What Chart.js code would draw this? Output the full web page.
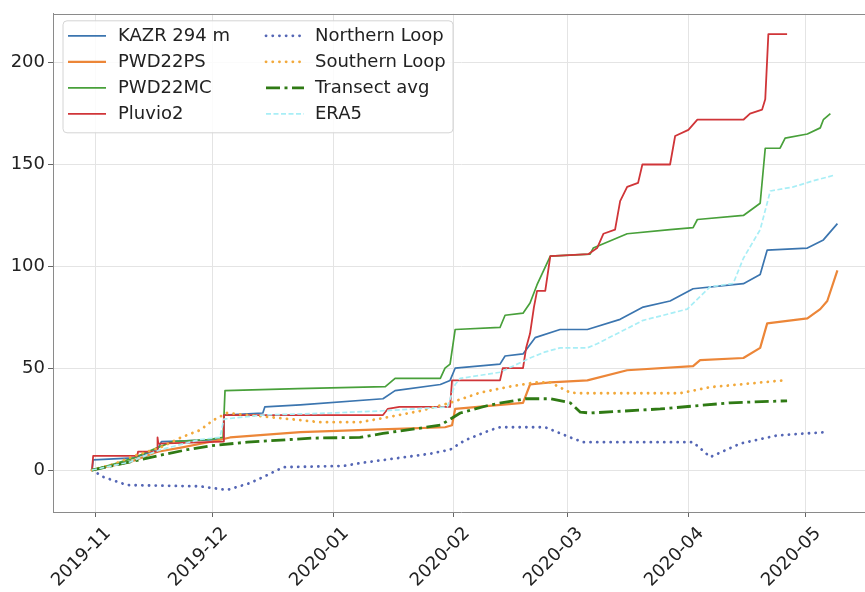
<!DOCTYPE html>
<html><head><meta charset="utf-8">
<script src="https://cdn.jsdelivr.net/npm/chart.js@4/dist/chart.umd.min.js"></script>
<style>html,body{margin:0;padding:0;background:#fff;overflow:hidden;width:865px;height:592px}canvas{display:block}</style>
</head><body><canvas id="c" width="880" height="592"></canvas>
<script>
// x values are days since 2019-11-01, y values are accumulated precipitation
const monthLabels = ['2019-11','2019-12','2020-01','2020-02','2020-03','2020-04','2020-05'];
const yTicks = [0, 50, 100, 150, 200];

const kazrDays = [-0.8,-0.5,10,16,17,32.8,33,43,43.5,52.6,73.8,76.9,88.5,91,92.3,103.8,105.1,109.7,112.8,119.2,126.2,134.6,140.5,147.4,153.3,166.2,170.5,172.3,182.6,186.7,190.3];
const kazrVals = [0,5,6,10,14,15,27,28,31,32,35,39,42,44,50,52,56,57,65,69,69,74,80,83,89,91.5,96,108,109,113,121];

const psDays = [-0.8,9,16,22,30,34.6,52.6,73.1,89.7,91.5,92.3,109.7,111.5,116.7,126.2,136.4,153.3,155.1,166.2,170.5,172.3,182.6,185.9,187.7,190.3];
const psVals = [0,4,9,11,14,16,18.6,20,21,22,30,33,42,43,44,49,51,54,55,60,72,74.5,79,83,98];

const mcDays = [-0.8,5,10,16,20,29,32.8,33.3,52,74.4,76.9,88.5,89.7,91,92.3,103.8,105.1,109.7,111.5,113.3,116.7,126.9,127.7,136.4,147.4,153.3,154.4,166.2,170.5,171.8,175.6,176.9,182.6,185.9,186.7,188.5];
const mcVals = [0,3,6,11,14,15,16,39,40,41,45,45,50,52,69,70,76,77,82,91,105,106,109,116,118,119,123,125,131,158,158,163,165,168,172,175];

const pluvioDays = [-0.8,-0.5,10.8,11,15.9,16,16.2,32.8,33,73.8,75,78,91,91.5,103.8,104.5,109.7,110.5,111.5,112.5,113.3,115.4,116.7,126.4,128.7,130.3,133.3,134.6,136.4,139.2,140.3,147.4,148.7,152.1,154.4,166.2,167.9,171,171.8,172.6,177.4];
const pluvioVals = [0,7,7,9,9,16,13,14,27,27,30,31,31,44,44,50,50,60,67,80,88,88,105,106,109,116,118,132,139,141,150,150,164,167,172,172,175,177,182,214,214];

const northDays = [-0.8,2.1,8.2,26.9,33.8,39.7,44.1,48.2,63.6,67.9,85.9,91,94.9,101.3,103.8,115.4,121.8,125.1,153.3,157.7,165.4,174.9,187.2];
const northVals = [0,-3.4,-7.4,-8,-9.8,-6.4,-2.5,1.4,2,3.4,8,10,14.7,19.6,21,21,16,13.7,13.7,6.4,13,17,18.6];

const southDays = [-0.8,5,10,16.7,22,26.9,30.3,33.8,47.4,57.7,67.9,73.8,83.3,91,98.7,106.4,112.8,116.7,121.8,124.4,150,157.7,176.4];
const southVals = [0,3,7,11,16,19.6,24.5,28,25.5,23.5,23.5,25.5,29,33,38,41,43,43,38,37.7,37.7,40.7,44];

const transDays = [-0.8,9,16,23.6,30,39,55.9,67.9,73.8,88.5,93.6,101.3,110.3,116.7,121.8,124.4,126.9,144.9,162.8,177.4];
const transVals = [0,4,7,10,12,13.7,15.7,16,18,22,28,32,35,35,33,28.4,28,30,33,34];

const era5Days = [-0.8,9,16.7,26.9,32,33,43,60.3,73.1,90.3,92.3,93.6,103.8,111.5,115.4,119.2,126.2,128.7,140.5,151.8,157.7,163.6,166.2,170.5,173.1,179,184.1,189.2];
const era5Vals = [0,4,10,15,16,25,27,28,29,31,42,45,48,55,58,60,60,62,73.5,79,90,91.6,104,118,137,139,142,144.6];

const FONT = 'DejaVu Sans';
const day0 = Date.UTC(2019, 10, 1);
const monthDays = monthLabels.map(s => {
  const [y, m] = s.split('-').map(Number);
  return (Date.UTC(y, m - 1, 1) - day0) / 864e5;
});

function mk(label, days, vals, style) {
  return Object.assign({
    label, data: days.map((d, i) => ({x: d, y: vals[i]})),
    pointRadius: 0, tension: 0, fill: false, borderJoinStyle: 'round', borderCapStyle: 'butt', borderDash: []
  }, style);
}

const datasets = [
  mk('KAZR 294 m', kazrDays, kazrVals, {borderColor: '#3b75af', borderWidth: 1.7}),
  mk('PWD22PS', psDays, psVals, {borderColor: '#ec8638', borderWidth: 2.2}),
  mk('PWD22MC', mcDays, mcVals, {borderColor: '#48a03a', borderWidth: 1.7}),
  mk('Pluvio2', pluvioDays, pluvioVals, {borderColor: '#d03538', borderWidth: 1.8}),
  mk('Northern Loop', northDays, northVals, {borderColor: '#5466b5', borderWidth: 2.8, borderDash: [0.1, 6.6], borderCapStyle: 'round'}),
  mk('Southern Loop', southDays, southVals, {borderColor: '#f2a93b', borderWidth: 2.8, borderDash: [0.1, 6.6], borderCapStyle: 'round'}),
  mk('Transect avg', transDays, transVals, {borderColor: '#2f7a14', borderWidth: 2.8, borderDash: [14, 4.5, 3, 4.5]}),
  mk('ERA5', era5Days, era5Vals, {borderColor: '#a8eef6', borderWidth: 1.7, borderDash: [5, 2.5]})
];
datasets.forEach((d, i) => { d.order = datasets.length - i; });

const framePlugin = {
  id: 'frame',
  afterDraw(chart) {
    const {ctx, chartArea: a} = chart;
    ctx.save();
    ctx.strokeStyle = '#8a8a8a';
    ctx.lineWidth = 1;
    ctx.beginPath();
    ctx.moveTo(a.left, Math.round(a.top) + 0.5);
    ctx.lineTo(a.right, Math.round(a.top) + 0.5);
    ctx.stroke();
    ctx.restore();
  }
};

const legendPlugin = {
  id: 'mplLegend',
  afterDraw(chart) {
    const {ctx, chartArea: a} = chart;
    const bx = a.left + 10, by = a.top + 7, bw = 390, bh = 112, r = 4;
    ctx.save();
    ctx.beginPath();
    ctx.moveTo(bx + r, by);
    ctx.arcTo(bx + bw, by, bx + bw, by + bh, r);
    ctx.arcTo(bx + bw, by + bh, bx, by + bh, r);
    ctx.arcTo(bx, by + bh, bx, by, r);
    ctx.arcTo(bx, by, bx + bw, by, r);
    ctx.closePath();
    ctx.fillStyle = 'rgba(255,255,255,0.85)';
    ctx.fill();
    ctx.strokeStyle = '#d4d4d4';
    ctx.lineWidth = 1;
    ctx.stroke();
    ctx.font = '18px "' + FONT + '"';
    ctx.textBaseline = 'middle';
    ctx.fillStyle = '#222';
    datasets.forEach((d, i) => {
      const col = Math.floor(i / 4), row = i % 4;
      const y = by + 15 + row * 26;
      const hx0 = bx + (col ? 203 : 5), hx1 = hx0 + 38;
      const tx = bx + (col ? 252 : 55);
      ctx.save();
      ctx.strokeStyle = d.borderColor;
      ctx.lineWidth = d.borderWidth;
      ctx.setLineDash(d.borderDash || []);
      ctx.lineCap = d.borderCapStyle || 'butt';
      ctx.beginPath();
      ctx.moveTo(hx0, y);
      ctx.lineTo(hx1, y);
      ctx.stroke();
      ctx.restore();
      ctx.fillText(d.label, tx, y + 1);
    });
    ctx.restore();
  }
};

new Chart(document.getElementById('c'), {
  type: 'line',
  data: {datasets},
  plugins: [framePlugin, legendPlugin],
  options: {
    responsive: false, animation: false, events: [],
    layout: {padding: {left: 0, top: 13, right: 11, bottom: 0}},
    plugins: {legend: {display: false}, tooltip: {enabled: false}},
    scales: {
      x: {
        type: 'linear', min: -10.8, max: 198.4,
        afterFit: s => { s.height = 80; },
        afterBuildTicks: s => { s.ticks = monthDays.map(v => ({value: v})); },
        ticks: {
          autoSkip: false, maxRotation: 45, minRotation: 45, padding: 6, labelOffset: 13,
          color: '#222', font: {family: FONT, size: 18},
          callback: (v, i) => monthLabels[i]
        },
        grid: {color: '#e4e4e4', tickColor: '#666', tickLength: 5, lineWidth: 1},
        border: {color: '#8a8a8a', width: 1}
      },
      y: {
        min: -20.6, max: 224,
        afterFit: s => { s.width = 53; },
        afterBuildTicks: s => { s.ticks = yTicks.map(v => ({value: v})); },
        ticks: {color: '#222', font: {family: FONT, size: 18}, padding: 3, callback: (v, i) => String(yTicks[i])},
        grid: {color: '#e4e4e4', tickColor: '#666', tickLength: 5, lineWidth: 1},
        border: {color: '#8a8a8a', width: 1}
      }
    }
  }
});
</script></body></html>
